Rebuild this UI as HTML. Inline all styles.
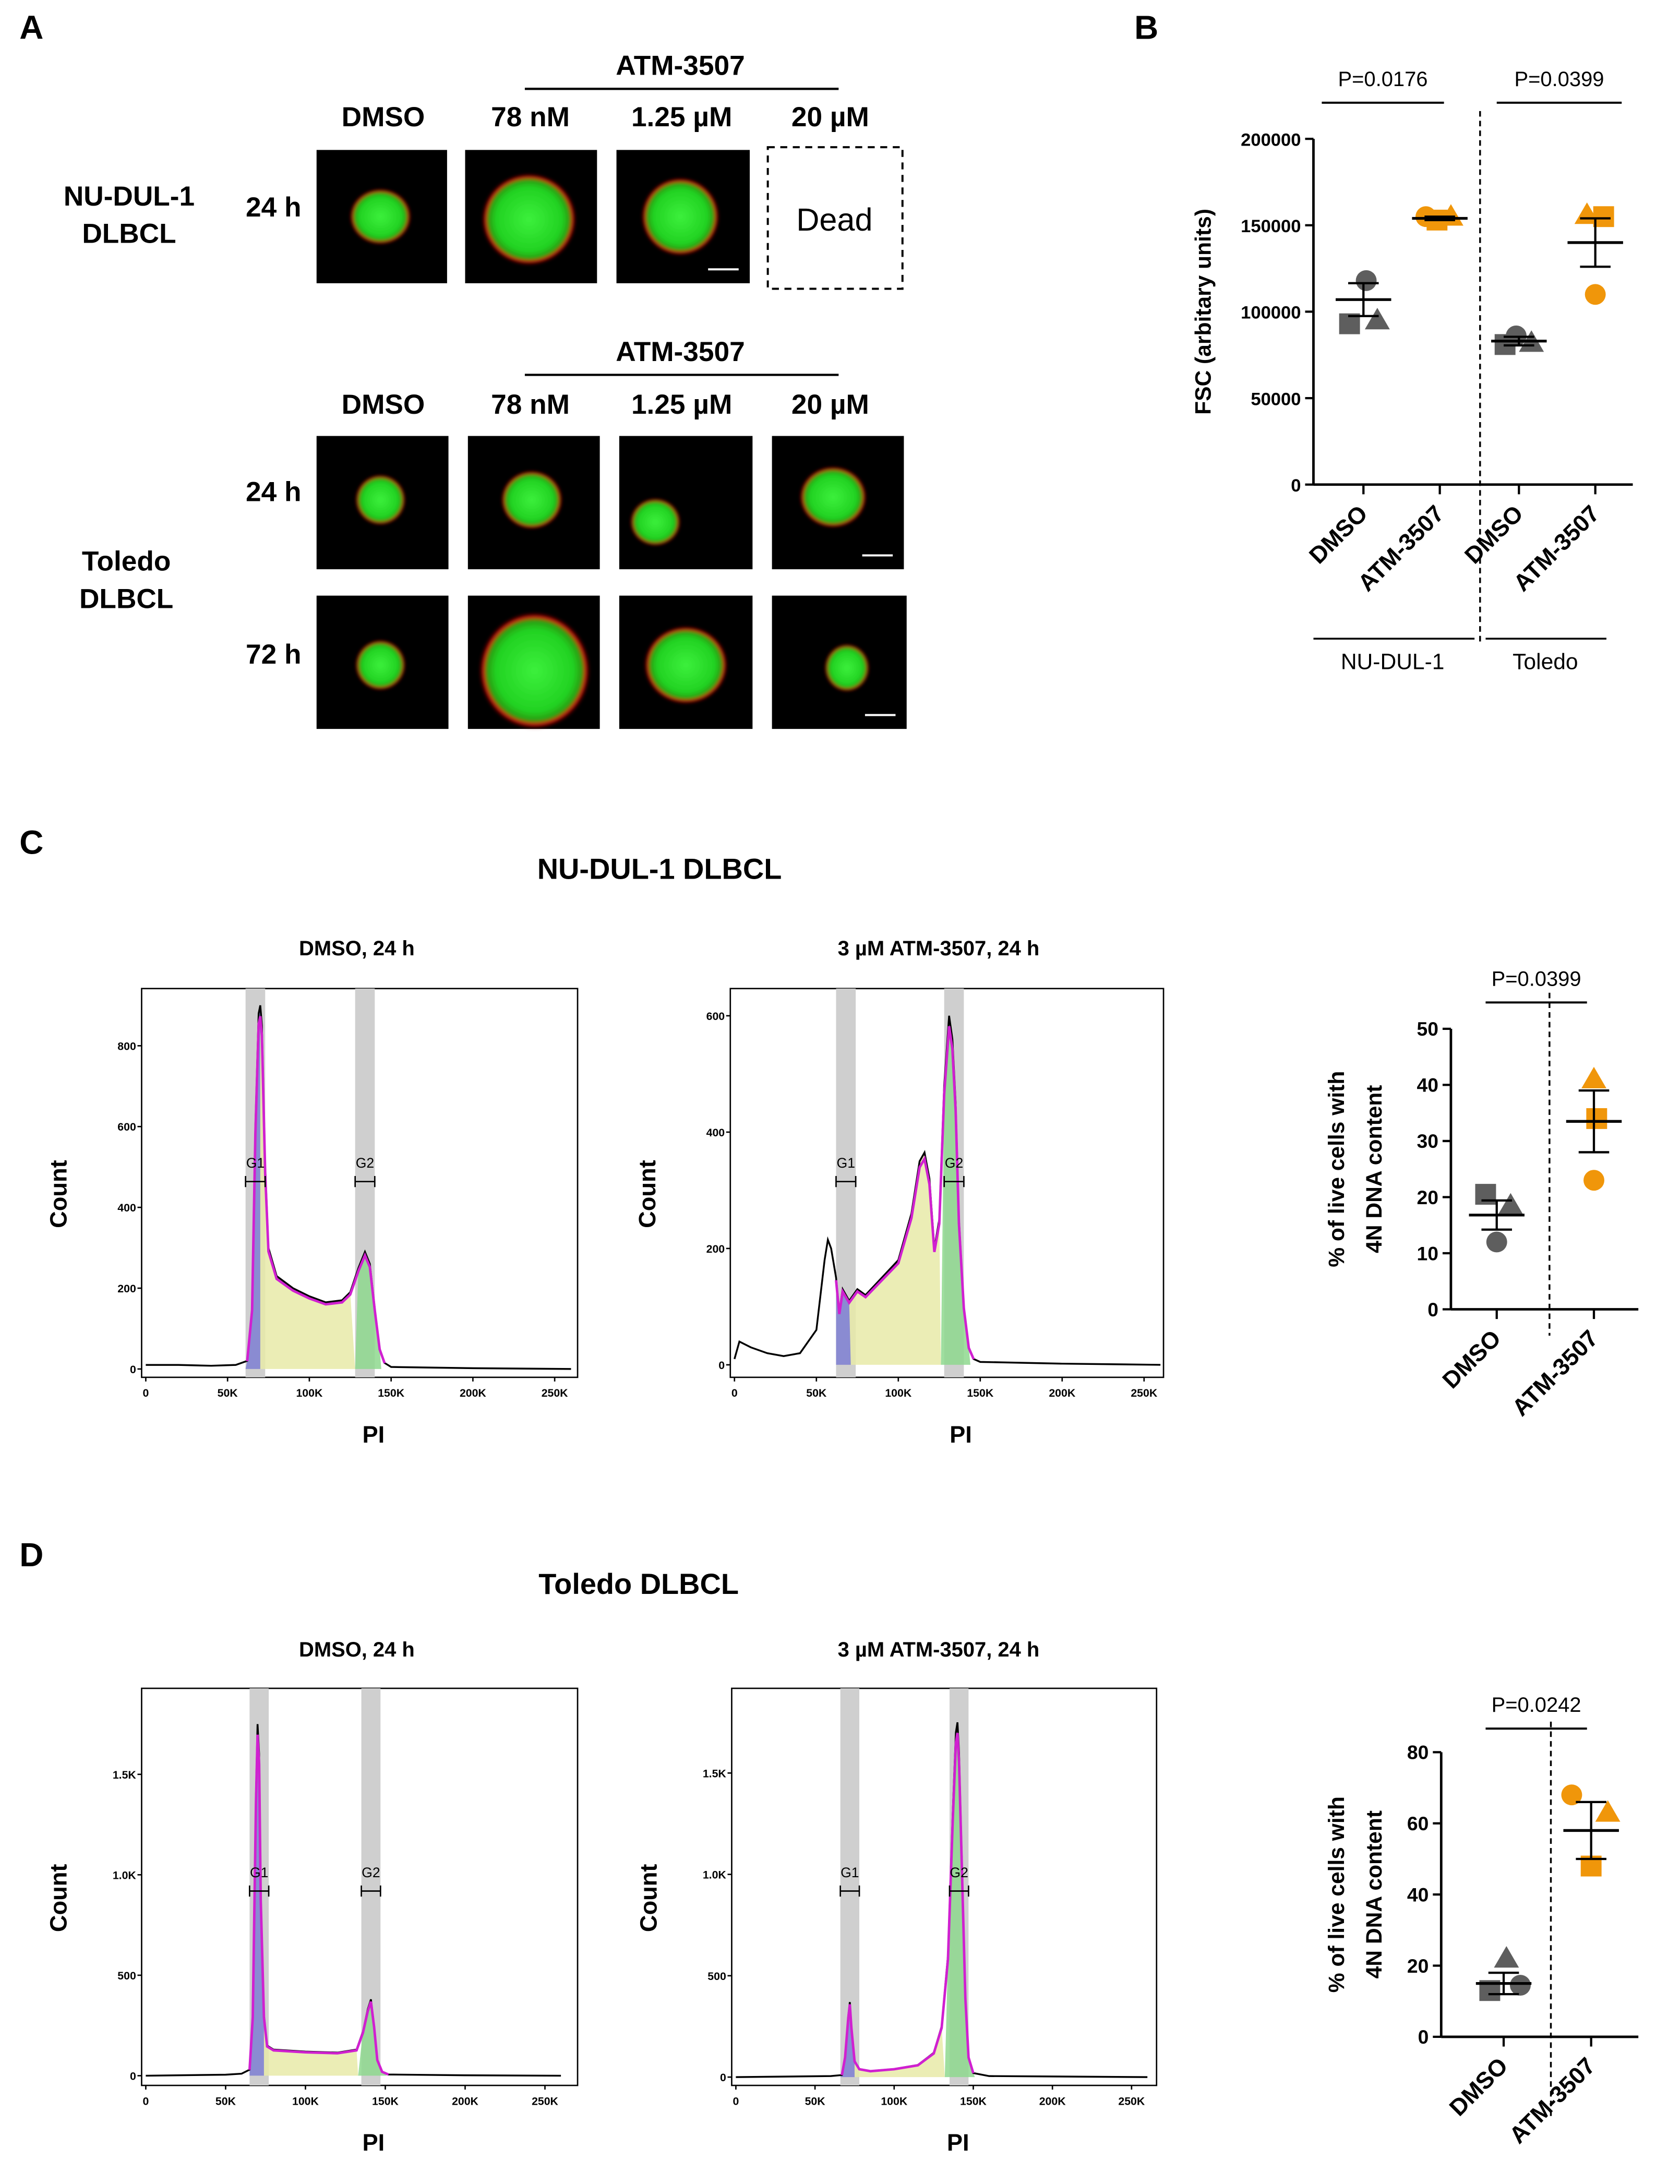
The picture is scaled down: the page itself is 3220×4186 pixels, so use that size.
<!DOCTYPE html>
<html><head><meta charset="utf-8">
<style>
html,body{margin:0;padding:0;background:#fff;}
svg{display:block;font-family:"Liberation Sans",Arial,sans-serif;}
</style></head>
<body>
<svg id="fig" width="3220" height="4186" viewBox="0 0 1210 1573" xmlns="http://www.w3.org/2000/svg">
<defs>
<radialGradient id="gcell" cx="50%" cy="50%" r="50%">
<stop offset="0%" stop-color="#3cf03c"/><stop offset="70%" stop-color="#22d222"/><stop offset="86%" stop-color="#2a9a10"/><stop offset="92%" stop-color="#e01010"/><stop offset="100%" stop-color="#600000" stop-opacity="0"/>
</radialGradient>
<filter id="blur1"><feGaussianBlur stdDeviation="1.2"/></filter>
</defs>
<g id="root"></g>
</svg>
<script>
// ---------- Panel B data ----------
const bCategories = ["DMSO","ATM-3507","DMSO","ATM-3507"];
const bCircle   = [118000,155000,86000,110000];
const bSquare   = [93000,153000,81000,155000];
const bTriangle = [95000,155000,82000,156000];
const bMean     = [107000,154000,83000,140000];
const bSem      = [9500,1000,2500,14000];
const bTicks    = [0,50000,100000,150000,200000];
// ---------- Panel C dot data ----------
const cCategories = ["DMSO","ATM-3507"];
const cCircle   = [12,23];
const cSquare   = [20.5,34];
const cTriangle = [18.5,41];
const cMean     = [16.8,33.5];
const cSem      = [2.6,5.5];
const cTicks    = [0,10,20,30,40,50];
// ---------- Panel D dot data ----------
const dCircle   = [14.5,68];
const dSquare   = [13,48];
const dTriangle = [22,63];
const dMean     = [15,58];
const dSem      = [3,8];
const dTicks    = [0,20,40,60,80];
// ---------- Histogram data (PI in K, counts) ----------
const h1PI = [0,20,40,55,62,65,67,69,70,71,73,75,80,90,100,110,120,125,130,134,137,140,143,146,150,200,260];
const h1Ct = [10,10,8,10,20,150,600,880,900,850,500,300,230,200,180,165,170,190,250,290,260,150,50,15,5,2,0];
const h2PI = [0,3,10,20,30,40,50,55,57,59,62,64,66,70,75,80,90,100,108,113,116,119,122,125,128,131,133,135,137,140,143,146,150,200,260];
const h2Ct = [10,40,30,20,15,20,60,180,215,200,150,90,130,110,130,120,150,180,260,350,365,320,200,250,480,600,560,450,250,100,30,10,5,2,0];
const h3PI = [0,50,60,65,67,69,70,71,72,74,76,80,100,120,132,136,139,141,143,145,148,152,200,260];
const h3Ct = [0,5,10,30,300,1400,1750,1600,900,300,150,130,120,115,130,220,330,380,250,80,20,6,2,0];
const h4PI = [0,60,67,69,71,72,73,75,78,85,100,115,125,130,134,137,139,140,141,143,145,147,150,160,260];
const h4Ct = [0,5,10,100,300,370,250,80,40,30,40,60,120,250,600,1300,1700,1750,1600,1000,400,100,20,5,0];

const NS="http://www.w3.org/2000/svg";
const root=document.getElementById('root');
function mk(tag,attrs,parent){const e=document.createElementNS(NS,tag);for(const k in attrs)e.setAttribute(k,attrs[k]);(parent||root).appendChild(e);return e;}
function txt(x,y,s,size,opts){opts=opts||{};const e=mk('text',{x:x,y:y,'font-size':size,'text-anchor':opts.anchor||'middle','font-weight':opts.bold===false?'normal':'bold',fill:'#000'},opts.parent);if(opts.rot)e.setAttribute('transform','rotate('+opts.rot+' '+x+' '+y+')');e.textContent=s;

return e;}
function line(x1,y1,x2,y2,w,dash,parent){const e=mk('line',{x1:x1,y1:y1,x2:x2,y2:y2,stroke:'#000','stroke-width':w||1.3},parent);if(dash)e.setAttribute('stroke-dasharray',dash);

return e;}

// ---------- Panel letters ----------
[['A',14,28],['B',817,28],['C',14,615],['D',14,1128]].forEach(p=>txt(p[1],p[2],p[0],24,{anchor:'start',name:'panel-letter-'+p[0].toLowerCase()}));

// ---------- Panel A ----------
function header(y){txt(490,y,'ATM-3507',20,{name:'drug-header'});line(378,y+10,604,y+10,1.6);}
header(54);header(260);
[[276,'DMSO'],[382,'78 nM'],[491,'1.25 µM'],[598,'20 µM']].forEach(c=>{txt(c[0],91,c[1],20,{name:'dose-label'});txt(c[0],298,c[1],20,{name:'dose-label'});});
txt(93,148,'NU-DUL-1',20,{name:'cell-line-label'});txt(93,175,'DLBCL',20,{name:'cell-line-label'});
txt(91,411,'Toledo',20,{name:'cell-line-label'});txt(91,438,'DLBCL',20,{name:'cell-line-label'});
txt(197,156,'24 h',20,{name:'time-label'});txt(197,361,'24 h',20,{name:'time-label'});txt(197,478,'72 h',20,{name:'time-label'});
function cellImg(x,y,w,h,cx,cy,rx,ry,bar){const g=mk('g',{});
mk('rect',{x:x,y:y,width:w,height:h,fill:'#000'},g);
mk('ellipse',{cx:x+cx,cy:y+cy,rx:rx,ry:ry,fill:'url(#gcell)',filter:'url(#blur1)'},g);
if(bar)mk('line',{x1:x+w-30,y1:y+h-10,x2:x+w-8,y2:y+h-10,stroke:'#fff','stroke-width':1.5},g);}
cellImg(228,108,94,96,46,48,22,20);
cellImg(335,108,95,96,46,50,34,33);
cellImg(444,108,96,96,46,48,28,28,true);
const dead=mk('rect',{x:553,y:106,width:97,height:102,fill:'none',stroke:'#000','stroke-width':1.5,'stroke-dasharray':'5,4'});
txt(601,166,'Dead',23,{bold:false,name:'dead-label'});
cellImg(228,314,95,96,46,46,18,18);
cellImg(337,314,95,96,46,46,22,21);
cellImg(446,314,96,96,26,62,18,17);
cellImg(556,314,95,96,44,44,24,22,true);
cellImg(228,429,95,96,46,50,18,18);
cellImg(337,429,95,96,48,54,40,42);
cellImg(446,429,96,96,48,50,30,28);
cellImg(556,429,97,96,54,52,16,17,true);

// ---------- Dot plots ----------
function marker(type,x,y,color,g){let e;
if(type==='c')e=mk('circle',{cx:x,cy:y,r:7.5,fill:color},g);
else if(type==='s')e=mk('rect',{x:x-7.5,y:y-7.5,width:15,height:15,fill:color},g);
else e=mk('polygon',{points:(x)+','+(y-9)+' '+(x+9)+','+(y+6.5)+' '+(x-9)+','+(y+6.5),fill:color},g);

}
function dotPlot(cfg){const g=mk('g',{});
const ys=v=>cfg.y0-(v-cfg.ticks[0])/(cfg.ticks[cfg.ticks.length-1]-cfg.ticks[0])*(cfg.y0-cfg.y1);
line(cfg.ax,cfg.y1,cfg.ax,cfg.y0,1.8,null,g);line(cfg.ax,cfg.y0,cfg.axEnd,cfg.y0,1.8,null,g);
cfg.ticks.forEach(t=>{line(cfg.ax-6,ys(t),cfg.ax,ys(t),1.6,null,g);txt(cfg.ax-9,ys(t)+5,String(t),cfg.fs,{anchor:'end',parent:g,name:'y-tick-label'});});
cfg.xs.forEach((x,i)=>{line(x,cfg.y0,x,cfg.y0+7,1.6,null,g);
const col=cfg.colors[i];
marker('c',x+cfg.off[i][0],ys(cfg.circ[i]),col,g);marker('s',x+cfg.off[i][1],ys(cfg.sq[i]),col,g);marker('t',x+cfg.off[i][2],ys(cfg.tri[i]),col,g);
line(x-20,ys(cfg.mean[i]),x+20,ys(cfg.mean[i]),2,null,g);
line(x,ys(cfg.mean[i]-cfg.sem[i]),x,ys(cfg.mean[i]+cfg.sem[i]),1.6,null,g);
line(x-11,ys(cfg.mean[i]-cfg.sem[i]),x+11,ys(cfg.mean[i]-cfg.sem[i]),1.6,null,g);
line(x-11,ys(cfg.mean[i]+cfg.sem[i]),x+11,ys(cfg.mean[i]+cfg.sem[i]),1.6,null,g);
txt(x+4,cfg.y0+22,cfg.cats[i],cfg.xfs,{anchor:'end',rot:-45,parent:g,name:'x-tick-label'});});
cfg.dashed.forEach(d=>line(d[0],d[1],d[0],d[2],1.3,'4,3',g));
cfg.pvals.forEach(p=>{txt((p[1]+p[2])/2,p[0]-12,p[3],15,{bold:false,parent:g,name:'p-value'});line(p[1],p[0],p[2],p[0],1.5,null,g);});
cfg.ytitle.forEach((t,i)=>txt(cfg.ytx+i*27,(cfg.y0+cfg.y1)/2,t,16,{rot:-90,parent:g,name:'y-axis-title'}));
return g;}
const grey='#5e5e5e',orng='#f0960a';
dotPlot({name:'fsc-dot-plot',ax:946,axEnd:1176,y0:349,y1:100,ticks:bTicks,fs:13,xfs:17,xs:[982,1037,1094,1149],cats:bCategories,
colors:[grey,orng,grey,orng],circ:bCircle,sq:bSquare,tri:bTriangle,mean:bMean,sem:bSem,off:[[2,-10,10],[-10,-2,8],[-2,-10,9],[0,6,-6]],
dashed:[[1066,80,462]],pvals:[[74,952,1040,'P=0.0176'],[74,1078,1168,'P=0.0399']],ytitle:['FSC (arbitary units)'],ytx:872});
line(946,460,1062,460,1.3);line(1070,460,1157,460,1.3);
txt(1003,482,'NU-DUL-1',16,{bold:false,name:'group-label'});txt(1113,482,'Toledo',16,{bold:false,name:'group-label'});
dotPlot({name:'c-4n-dot-plot',ax:1045,axEnd:1180,y0:943,y1:741,ticks:cTicks,fs:14,xfs:17,xs:[1078,1148],cats:cCategories,
colors:[grey,orng],circ:cCircle,sq:cSquare,tri:cTriangle,mean:cMean,sem:cSem,off:[[0,-8,10],[0,2,0]],
dashed:[[1116,715,962]],pvals:[[722,1070,1143,'P=0.0399']],ytitle:['% of live cells with','4N DNA content'],ytx:968});
dotPlot({name:'d-4n-dot-plot',ax:1038,axEnd:1180,y0:1467,y1:1262,ticks:dTicks,fs:14,xfs:17,xs:[1083,1146],cats:cCategories,
colors:[grey,orng],circ:dCircle,sq:dSquare,tri:dTriangle,mean:dMean,sem:dSem,off:[[12,-10,2],[-14,0,12]],
dashed:[[1117,1240,1525]],pvals:[[1245,1070,1143,'P=0.0242']],ytitle:['% of live cells with','4N DNA content'],ytx:968});

// ---------- Histograms ----------
function hist(cfg){const g=mk('g',{});
const xs=v=>cfg.x0+v/50*cfg.kpx, ys=v=>cfg.yz-v/cfg.yUnit*cfg.ypx;
mk('rect',{x:cfg.box[0],y:cfg.box[1],width:cfg.box[2]-cfg.box[0],height:cfg.box[3]-cfg.box[1],fill:'#fff',stroke:'#000','stroke-width':1},g);
cfg.gates.forEach(gt=>mk('rect',{x:xs(gt[0]),y:cfg.box[1],width:xs(gt[1])-xs(gt[0]),height:cfg.box[3]-cfg.box[1],fill:'#cfcfcf'},g));
function area(a,b,col){let pts=[[xs(a),ys(0)]];cfg.pi.forEach((p,i)=>{if(p>=a&&p<=b)pts.push([xs(p),ys(cfg.ct[i])]);});pts.push([xs(b),ys(0)]);
mk('polygon',{points:pts.map(p=>p.join(',')).join(' '),fill:col,opacity:0.85},g);}
area(cfg.gates[0][0],cfg.sRange[1],'#e8eaa8');
area(cfg.gates[0][0],cfg.gates[0][1]-3,'#7a7ad8');
area(cfg.sRange[1],cfg.gates[1][1]+4,'#8ed88e');
const all=cfg.pi.map((p,i)=>xs(p)+','+ys(cfg.ct[i])).join(' ');
const fit=cfg.pi.map((p,i)=>[p,i]).filter(a=>a[0]>=cfg.gates[0][0]-2&&a[0]<=cfg.gates[1][1]+6).map(a=>xs(a[0])+','+ys(cfg.ct[a[1]]*0.97)).join(' ');
mk('polyline',{points:all,fill:'none',stroke:'#000','stroke-width':1.3},g);
mk('polyline',{points:fit,fill:'none',stroke:'#d020d0','stroke-width':1.8},g);
cfg.gates.forEach((gt,i)=>{const yy=cfg.gy;line(xs(gt[0]),yy,xs(gt[1]),yy,1,null,g);line(xs(gt[0]),yy-4,xs(gt[0]),yy+4,1,null,g);line(xs(gt[1]),yy-4,xs(gt[1]),yy+4,1,null,g);
txt((xs(gt[0])+xs(gt[1]))/2,yy-10,i?'G2':'G1',10,{bold:false,parent:g,name:'gate-label'});});
['0','50K','100K','150K','200K','250K'].forEach((t,i)=>{line(xs(i*50),cfg.box[3],xs(i*50),cfg.box[3]+3,1,null,g);txt(xs(i*50),cfg.box[3]+14,t,8,{parent:g,name:'x-tick-label'});});
cfg.yt.forEach((t,i)=>{line(cfg.box[0]-3,ys(t[0]),cfg.box[0],ys(t[0]),1,null,g);txt(cfg.box[0]-4,ys(t[0])+3,t[1],8,{anchor:'end',parent:g,name:'y-tick-label'});});
txt(cfg.title[0],cfg.title[1],cfg.title[2],15,{parent:g,name:'histogram-title'});
txt(cfg.box[0]-54,(cfg.box[1]+cfg.box[3])/2+8,'Count',17,{rot:-90,parent:g,name:'y-axis-title'});
txt((cfg.box[0]+cfg.box[2])/2+10,cfg.box[3]+47,'PI',17,{parent:g,name:'x-axis-title'});}
const yC1=[[0,'0'],[200,'200'],[400,'400'],[600,'600'],[800,'800']];
hist({name:'hist-nudul-dmso',box:[102,712,416,992],x0:105,kpx:58.9,yz:986,yUnit:100,ypx:29.1,pi:h1PI,ct:h1Ct,gates:[[61,73],[128,140]],sRange:[70,128],gy:851,yt:yC1,title:[257,688,'DMSO, 24 h']});
hist({name:'hist-nudul-atm',box:[526,712,838,992],x0:529,kpx:59,yz:983,yUnit:100,ypx:41.9,pi:h2PI,ct:h2Ct,gates:[[62,74],[128,140]],sRange:[72,126],gy:851,yt:[[0,'0'],[200,'200'],[400,'400'],[600,'600']],title:[676,688,'3 µM ATM-3507, 24 h']});
const yD=[[0,'0'],[500,'500'],[1000,'1.0K'],[1500,'1.5K']];
hist({name:'hist-toledo-dmso',box:[102,1216,416,1502],x0:105,kpx:57.5,yz:1495,yUnit:1000,ypx:144.7,pi:h3PI,ct:h3Ct,gates:[[65,77],[135,147]],sRange:[73,133],gy:1362,yt:yD,title:[257,1193,'DMSO, 24 h']});
hist({name:'hist-toledo-atm',box:[527,1216,833,1502],x0:530,kpx:57,yz:1496,yUnit:1000,ypx:146,pi:h4PI,ct:h4Ct,gates:[[66,78],[135,147]],sRange:[76,132],gy:1362,yt:yD,title:[676,1193,'3 µM ATM-3507, 24 h']});
txt(475,633,'NU-DUL-1 DLBCL',21,{name:'section-title'});
txt(460,1148,'Toledo DLBCL',21,{name:'section-title'});
</script>
</body></html>
